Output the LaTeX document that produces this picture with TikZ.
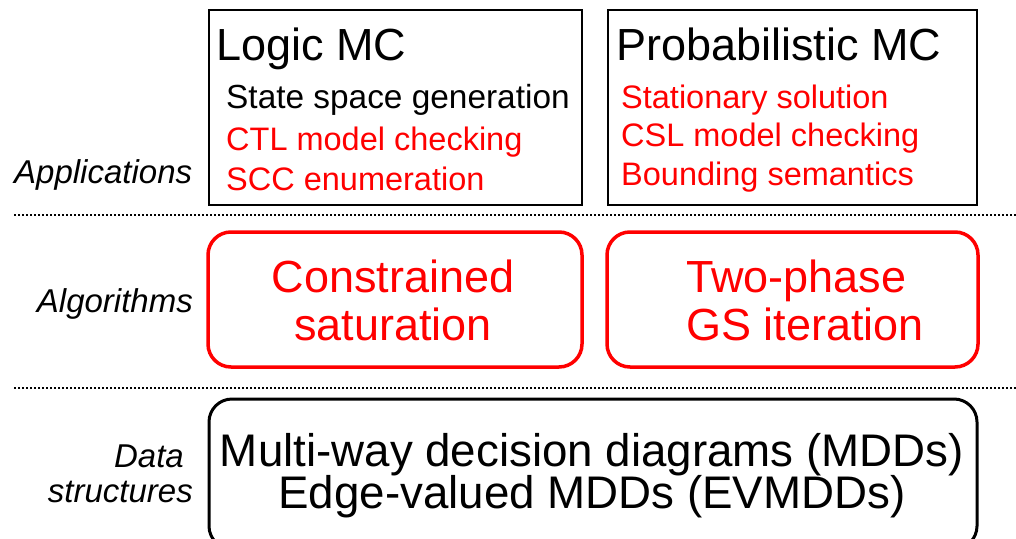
\documentclass[tikz,border=0pt]{standalone}
\usepackage{fontspec}
\setmainfont{Liberation Sans}
\begin{document}
\begin{tikzpicture}[x=1pt,y=-1pt,
  sqbox/.style={draw=black,line width=2.2pt,minimum width=#1,minimum height=195pt,inner sep=0pt},
  redbox/.style={draw=red,line width=3.5pt,rounded corners=23pt,minimum width=#1,minimum height=135pt,inner sep=0pt},
  bigtxt/.style={font=\fontsize{45}{47}\selectfont,inner sep=0pt},
  smalltxt/.style={font=\fontsize{32.5}{34}\selectfont,inner sep=0pt},
  sidetxt/.style={font=\fontsize{33}{35}\selectfont\itshape,inner sep=0pt},
  sep/.style={line width=2pt,dash pattern=on 2pt off 2pt}]
\useasboundingbox (0,0) rectangle (1016,538);
\clip (0,0) rectangle (1016,538);
% top boxes
\node[sqbox=373pt] (logic) at (395.5,107.5) {};
\node[sqbox=369pt] (prob) at (792.5,107.5) {};
\node[bigtxt,anchor=base west] (logict) at (216,60) {Logic MC};
\node[smalltxt,anchor=base west,font=\fontsize{33.4}{35}\selectfont] (l1) at (226,108) {State space generation};
\node[smalltxt,anchor=base west,text=red] (l2) at (226,150) {CTL model checking};
\node[smalltxt,anchor=base west,text=red] (l3) at (226,190) {SCC enumeration};
\node[bigtxt,anchor=base west] (probt) at (616,60) {Probabilistic MC};
\node[smalltxt,anchor=base west,text=red] (p1) at (621,108) {Stationary solution};
\node[smalltxt,anchor=base west,text=red] (p2) at (621,146) {CSL model checking};
\node[smalltxt,anchor=base west,text=red] (p3) at (621,185) {Bounding semantics};
% separators
\coordinate (s1a) at (14,215); \coordinate (s1b) at (1016,215);
\coordinate (s2a) at (14,388); \coordinate (s2b) at (1016,388);
\draw[sep] (s1a) -- (s1b);
\draw[sep] (s2a) -- (s2b);
% algorithms
\node[redbox=374pt] (cs) at (395,299.5) {};
\node[redbox=371pt] (gs) at (792.5,299.5) {};
\node[bigtxt,anchor=base,text=red] (cs1) at (393,292) {Constrained};
\node[bigtxt,anchor=base,text=red] (cs2) at (393,340) {saturation};
\node[bigtxt,anchor=base west,text=red] (gs1) at (686,292) {Two-phase};
\node[bigtxt,anchor=base west,text=red] (gs2) at (686,340) {GS iteration};
% data structures
\node[draw=black,line width=3pt,rounded corners=23pt,minimum width=768pt,minimum height=150pt,inner sep=0pt] (ds) at (593,474) {};
\node[bigtxt,anchor=base,font=\fontsize{45.7}{48}\selectfont] (ds1) at (592,466) {Multi-way decision diagrams (MDDs)};
\node[bigtxt,anchor=base,font=\fontsize{45.7}{48}\selectfont] (ds2) at (592,508) {Edge-valued MDDs (EVMDDs)};
% side labels
\node[sidetxt,anchor=base west] (app) at (14,183) {Applications};
\node[sidetxt,anchor=base east] (alg) at (193,312) {Algorithms};
\node[sidetxt,anchor=base east] (data1) at (184,467) {Data};
\node[sidetxt,anchor=base east] (data2) at (193,502) {structures};
\end{tikzpicture}
\end{document}
